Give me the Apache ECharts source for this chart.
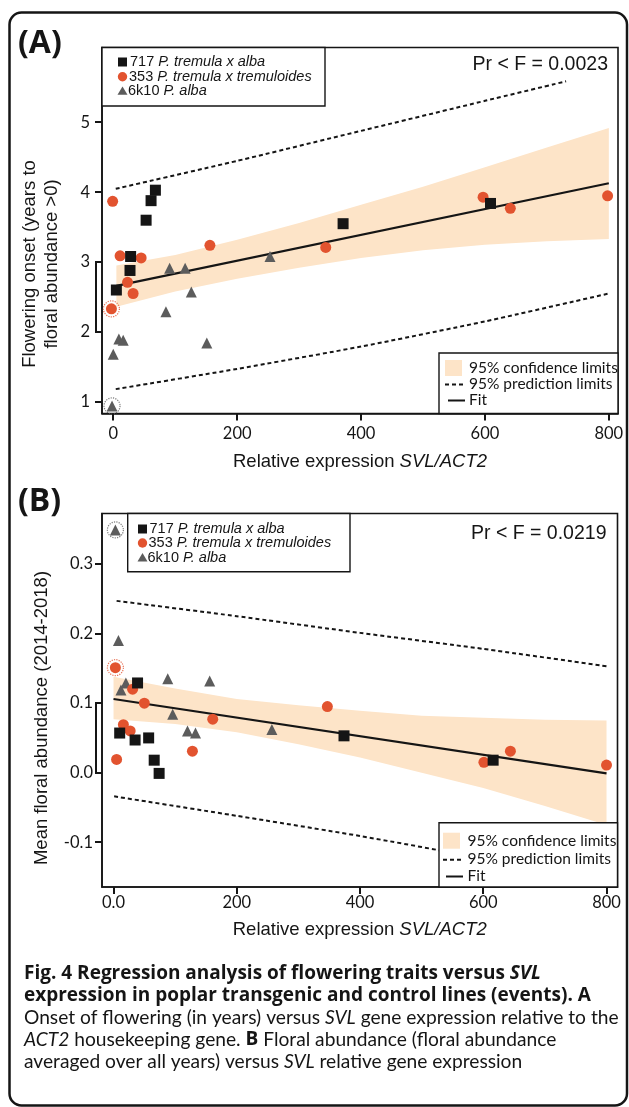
<!DOCTYPE html>
<html>
<head>
<meta charset="utf-8">
<script src="https://cdn.jsdelivr.net/npm/echarts@6/dist/echarts.min.js"></script>
<style>
  html, body { margin: 0; padding: 0; background: #fff; }
  #chart { width: 629px; height: 1107px; }
</style>
</head>
<body>
<div id="chart"></div>
<script>
// ---- data ----
const xTicks = [0, 200, 400, 600, 800];
const aYTicks = [1, 2, 3, 4, 5];
const bYTicks = [-0.1, 0, 0.1, 0.2, 0.3];

// (A) flowering onset vs relative expression
const a717 = [[5, 2.60], [28, 3.08], [27, 2.88], [53, 3.60], [61, 3.88], [68, 4.03], [371, 3.55], [609, 3.84]];
const a353 = [[-1, 3.87], [-3, 2.33], [11, 3.09], [23, 2.71], [32, 2.55], [45, 3.06], [156, 3.24], [343, 3.21], [597, 3.93], [641, 3.77], [798, 3.95]];
const a6k10 = [[-2, 0.94], [0, 1.68], [9, 1.90], [16, 1.88], [85, 2.29], [91, 2.91], [116, 2.91], [126, 2.57], [151, 1.84], [253, 3.08]];
const aRinged353 = [[-3, 2.33]];
const aRinged6k10 = [[-2, 0.94]];
const aFitX = [5, 800];
const aFitY = [2.66, 4.13];
const aBandX = [5, 100, 200, 300, 400, 500, 600, 700, 800];
const aBandHi = [2.95, 3.10, 3.32, 3.56, 3.82, 4.08, 4.36, 4.64, 4.92];
const aBandLo = [2.36, 2.58, 2.76, 2.92, 3.06, 3.17, 3.25, 3.30, 3.33];
const aPredHiX = [4, 200, 400, 600, 731];
const aPredHi = [4.05, 4.45, 4.88, 5.31, 5.59];
const aPredLoX = [4, 200, 400, 600, 800];
const aPredLo = [1.18, 1.47, 1.79, 2.15, 2.55];

// (B) mean floral abundance vs relative expression
const b717 = [[10, 0.057], [35, 0.047], [39, 0.129], [57, 0.050], [66, 0.018], [74, -0.001], [374, 0.053], [616, 0.018]];
const b353 = [[3, 0.151], [5, 0.019], [16, 0.069], [27, 0.060], [31, 0.120], [50, 0.100], [128, 0.031], [161, 0.077], [347, 0.095], [601, 0.015], [644, 0.031], [800, 0.011]];
const b6k10 = [[3, 0.349], [8, 0.190], [12, 0.119], [20, 0.129], [88, 0.135], [96, 0.084], [120, 0.060], [133, 0.057], [156, 0.132], [257, 0.062]];
const bRinged353 = [[3, 0.151]];
const bRinged6k10 = [[3, 0.349]];
const bFitX = [0, 800];
const bFitY = [0.106, -0.001];
const bBandX = [0, 100, 200, 300, 400, 500, 600, 700, 800];
const bBandHi = [0.138, 0.121, 0.106, 0.097, 0.089, 0.082, 0.079, 0.076, 0.075];
const bBandLo = [0.077, 0.070, 0.058, 0.041, 0.022, 0.000, -0.022, -0.048, -0.075];
const bPredHiX = [5, 200, 400, 600, 800];
const bPredHi = [0.247, 0.225, 0.201, 0.178, 0.153];
const bPredLoX = [1, 200, 400, 600, 800];
const bPredLo = [-0.034, -0.062, -0.091, -0.123, -0.155];

// ---- styling ----
const INK = '#151515';
const RED = '#e2532f';
const GREY = '#5c5c5c';
const PEACH = '#fde4c8';
const HELV = '"Liberation Sans", Arial, sans-serif';
const HUMAN = 'Lato, "Open Sans", sans-serif';
const HUMAN_BOLD = '"Open Sans", Lato, sans-serif';
const TICK_LEN = 7;

function pairs(xs, ys) {
    return xs.map((x, i) => [x, ys[i]]);
}

function bandSeries(idx, xs, hi, lo) {
    return {
        type: 'custom',
        xAxisIndex: idx,
        yAxisIndex: idx,
        z: 1,
        silent: true,
        data: xs.map((x, i) => [x, hi[i], lo[i]]),
        renderItem(params, api) {
            if (params.dataIndex !== 0) {
                return null;
            }
            const top = xs.map((x, i) => api.coord([x, hi[i]]));
            const bottom = xs.map((x, i) => api.coord([x, lo[i]])).reverse();
            return {
                type: 'polygon',
                shape: { points: top.concat(bottom) },
                style: { fill: PEACH },
            };
        },
    };
}

function lineSeries(idx, xs, ys, dashed) {
    return {
        type: 'line',
        xAxisIndex: idx,
        yAxisIndex: idx,
        data: pairs(xs, ys),
        symbol: 'none',
        smooth: dashed ? 0.2 : false,
        silent: true,
        z: 2,
        lineStyle: { color: INK, width: dashed ? 2 : 2.2, type: dashed ? [4, 3] : 'solid' },
    };
}

function pointSeries(idx, data, symbol, color, size) {
    return {
        type: 'scatter',
        xAxisIndex: idx,
        yAxisIndex: idx,
        data,
        symbol,
        symbolSize: size,
        z: 4,
        itemStyle: { color, opacity: 1 },
    };
}

function ringSeries(idx, data, color) {
    return {
        type: 'scatter',
        xAxisIndex: idx,
        yAxisIndex: idx,
        data,
        symbol: 'circle',
        symbolSize: 16,
        z: 3,
        itemStyle: { color: 'rgba(0,0,0,0)', borderColor: color, borderWidth: 1.2, borderType: 'dotted' },
    };
}

const axisLineStyle = { show: true, onZero: false, lineStyle: { color: INK, width: 1.6 } };

function xAxis(idx, min, max, labelMargin, nameGap, fmt) {
    return {
        type: 'value',
        gridIndex: idx,
        position: 'bottom',
        min,
        max,
        axisLine: axisLineStyle,
        splitLine: { show: false },
        axisTick: { show: false },
        axisLabel: { customValues: xTicks, margin: labelMargin, color: INK, fontFamily: HUMAN, fontSize: 16.5, formatter: fmt },
        name: '{r|Relative expression }{i|SVL/ACT2}',
        nameLocation: 'middle',
        nameGap,
        nameTextStyle: {
            rich: {
                r: { fontFamily: HELV, fontSize: 18.5, color: INK },
                i: { fontFamily: HELV, fontSize: 18.5, color: INK, fontStyle: 'italic' },
            },
        },
    };
}

function yAxis(idx, min, max, ticks, labelMargin, fmt) {
    return {
        type: 'value',
        gridIndex: idx,
        position: 'left',
        min,
        max,
        axisLine: axisLineStyle,
        splitLine: { show: false },
        axisTick: { show: false },
        axisLabel: { customValues: ticks, margin: labelMargin, color: INK, fontFamily: HUMAN, fontSize: 16.5, formatter: fmt },
    };
}

const chart = echarts.init(document.getElementById('chart'));

chart.setOption({
    animation: false,
    backgroundColor: '#fff',
    grid: [
        { left: 102, top: 47.5, width: 516, height: 366, show: true, borderColor: INK, borderWidth: 1.6, backgroundColor: 'transparent' },
        { left: 102, top: 513.5, width: 515.5, height: 373.5, show: true, borderColor: INK, borderWidth: 1.6, backgroundColor: 'transparent' },
    ],
    xAxis: [
        xAxis(0, -18.2, 814.8, 12, 38.5, (v) => String(v)),
        xAxis(1, -18.7, 817.8, 7, 33.5, (v) => (v === 0 ? '0.0' : String(v))),
    ],
    yAxis: [
        yAxis(0, 0.831, 6.074, aYTicks, 12, (v) => String(v)),
        yAxis(1, -0.1643, 0.3726, bYTicks, 9, (v) => v.toFixed(1)),
    ],
    series: [
        bandSeries(0, aBandX, aBandHi, aBandLo),
        lineSeries(0, aPredHiX, aPredHi, true),
        lineSeries(0, aPredLoX, aPredLo, true),
        lineSeries(0, aFitX, aFitY, false),
        ringSeries(0, aRinged353, RED),
        ringSeries(0, aRinged6k10, GREY),
        pointSeries(0, a6k10, 'triangle', GREY, 11),
        pointSeries(0, a353, 'circle', RED, 11),
        pointSeries(0, a717, 'rect', INK, 11),

        bandSeries(1, bBandX, bBandHi, bBandLo),
        lineSeries(1, bPredHiX, bPredHi, true),
        lineSeries(1, bPredLoX, bPredLo, true),
        lineSeries(1, bFitX, bFitY, false),
        ringSeries(1, bRinged353, RED),
        ringSeries(1, bRinged6k10, GREY),
        pointSeries(1, b6k10, 'triangle', GREY, 11),
        pointSeries(1, b353, 'circle', RED, 11),
        pointSeries(1, b717, 'rect', INK, 11),
    ],
});

// ---- annotations ----
function text(x, y, str, opts) {
    return {
        type: 'text',
        x,
        y,
        z: 20,
        silent: true,
        style: Object.assign({ text: str, fill: INK, textVerticalAlign: 'middle' }, opts),
    };
}

function segment(x1, y1, x2, y2, width, dash) {
    return {
        type: 'line',
        z: 21,
        silent: true,
        shape: { x1, y1, x2, y2 },
        style: { stroke: INK, lineWidth: width, lineDash: dash || null },
    };
}

function speciesLegend(x0, y0, w, h, symX, textX, rows) {
    const legendRich = {
        n: { fontFamily: HELV, fontSize: 14.5, fill: INK },
        i: { fontFamily: HELV, fontSize: 14.5, fill: INK, fontStyle: 'italic' },
    };
    return [
        { type: 'rect', z: 19, silent: true, shape: { x: x0, y: y0, width: w, height: h }, style: { fill: '#fff', stroke: INK, lineWidth: 1.4 } },
        { type: 'rect', z: 21, silent: true, shape: { x: symX - 4.5, y: rows[0] - 4.5, width: 9, height: 9 }, style: { fill: INK } },
        { type: 'circle', z: 21, silent: true, shape: { cx: symX, cy: rows[1], r: 4.7 }, style: { fill: RED } },
        { type: 'polygon', z: 21, silent: true, shape: { points: [[symX - 5, rows[2] + 3.8], [symX + 5, rows[2] + 3.8], [symX, rows[2] - 4.6]] }, style: { fill: GREY } },
        text(textX, rows[0], '{n|717 }{i|P. tremula x alba}', { rich: legendRich }),
        text(textX - 1, rows[1], '{n|353 }{i|P. tremula x tremuloides}', { rich: legendRich }),
        text(textX - 2, rows[2], '{n|6k10 }{i|P. alba}', { rich: legendRich }),
    ];
}

function limitsLegend(x0, y0, w, h, symX, textX, rows) {
    const font = { fontFamily: HUMAN, fontSize: 15.5 };
    return [
        { type: 'rect', z: 19, silent: true, shape: { x: x0, y: y0, width: w, height: h }, style: { fill: '#fff', stroke: INK, lineWidth: 1.4 } },
        { type: 'rect', z: 21, silent: true, shape: { x: symX, y: rows[0] - 8, width: 17, height: 16 }, style: { fill: PEACH } },
        text(textX, rows[0], '95% confidence limits', font),
        segment(symX, rows[1] + 0.5, symX + 19, rows[1] + 0.5, 2, [4, 3]),
        text(textX, rows[1], '95% prediction limits', font),
        segment(symX + 3, rows[2] + 0.5, symX + 20, rows[2] + 0.5, 2),
        text(textX, rows[2], 'Fit', font),
    ];
}

// tick marks and the "[" bracket beside the y axis, placed from the axis scales
function axisMarks(idx, xMin, yMin, yTicks, bracketTop, bracketBottom) {
    const left = chart.convertToPixel({ xAxisIndex: idx }, xMin);
    const bottom = chart.convertToPixel({ yAxisIndex: idx }, yMin);
    const marks = [];
    xTicks.forEach((v) => {
        const px = Math.round(chart.convertToPixel({ xAxisIndex: idx }, v));
        marks.push(segment(px, bottom, px, bottom + TICK_LEN, 2));
    });
    yTicks.forEach((v) => {
        const py = Math.round(chart.convertToPixel({ yAxisIndex: idx }, v));
        marks.push(segment(left - TICK_LEN, py, left, py, 2));
    });
    const yTop = Math.round(chart.convertToPixel({ yAxisIndex: idx }, bracketTop));
    const yBottom = Math.round(chart.convertToPixel({ yAxisIndex: idx }, bracketBottom));
    marks.push(segment(left - TICK_LEN + 1, yTop - 1, left - TICK_LEN + 1, yBottom + 1, 2));
    return marks;
}

const capSize = 19.2;
const capBoldSize = 19;
const capRich = {
    r: { fontFamily: HUMAN, fontSize: capSize, fill: INK },
    i: { fontFamily: HUMAN, fontSize: capSize, fill: INK, fontStyle: 'italic' },
    b: { fontFamily: HUMAN_BOLD, fontSize: capBoldSize, fill: INK, fontWeight: 'bold' },
    bi: { fontFamily: HUMAN_BOLD, fontSize: capBoldSize, fill: INK, fontWeight: 'bold', fontStyle: 'italic' },
};
const captionLines = [
    '{b|Fig. 4 Regression analysis of flowering traits versus }{bi|SVL}',
    '{b|expression in poplar transgenic and control lines (events). A}',
    '{r|Onset of flowering (in years) versus }{i|SVL}{r| gene expression relative to the}',
    '{i|ACT2}{r| housekeeping gene. }{b|B}{r| Floral abundance (floral abundance}',
    '{r|averaged over all years) versus }{i|SVL}{r| relative gene expression}',
];

const graphics = [
    { type: 'rect', z: 18, silent: true, shape: { x: 9.5, y: 12.5, width: 617.5, height: 1093, r: 12 }, style: { fill: null, stroke: INK, lineWidth: 2.5 } },
    text(18, 44, '(A)', { fontFamily: '"Open Sans", sans-serif', fontWeight: 'bold', fontSize: 32 }),
    text(18, 502, '(B)', { fontFamily: '"Open Sans", sans-serif', fontWeight: 'bold', fontSize: 32 }),
    text(608, 65, 'Pr < F = 0.0023', { fontFamily: HELV, fontSize: 19.5, textAlign: 'right' }),
    text(606.5, 533.3, 'Pr < F = 0.0219', { fontFamily: HELV, fontSize: 19.5, textAlign: 'right' }),
    Object.assign(text(41, 264, 'Flowering onset (years to\nfloral abundance >0)', { fontFamily: HELV, fontSize: 18.5, textAlign: 'center', lineHeight: 22 }), { rotation: Math.PI / 2 }),
    Object.assign(text(42, 718, 'Mean floral abundance (2014-2018)', { fontFamily: HELV, fontSize: 18.5, textAlign: 'center' }), { rotation: Math.PI / 2 }),
    ...speciesLegend(102, 47.5, 223, 58.5, 122.5, 130, [62, 76.7, 91]),
    ...speciesLegend(127.7, 513.5, 222.3, 58.2, 142.5, 149.5, [529, 543, 557.7]),
    ...limitsLegend(439, 353, 179, 60.5, 445, 469, [368, 384, 400]),
    ...limitsLegend(439, 822.7, 178.5, 64.3, 443, 467.5, [840.7, 859.3, 876]),
    ...axisMarks(0, -18.2, 0.831, aYTicks, 3, 2),
    ...axisMarks(1, -18.7, -0.1643, bYTicks, 0.1, 0),
    ...captionLines.map((line, i) => text(24, 974 + i * 21.9, line, { rich: capRich })),
];

chart.setOption({ graphic: graphics });
</script>
</body>
</html>
